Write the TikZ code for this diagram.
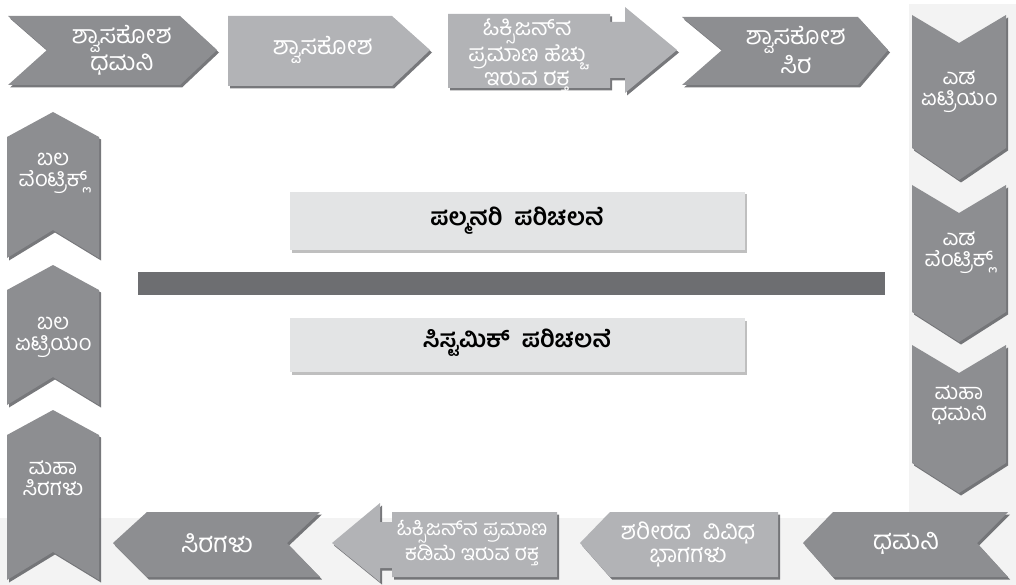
\documentclass[tikz,border=0pt]{standalone}
\usepackage{fontspec}
\newfontfamily\kn[Script=Kannada]{Hind Mysuru}
\definecolor{darkc}{HTML}{8D8E91}
\definecolor{lightc}{HTML}{B2B3B6}
\definecolor{shadc}{HTML}{55565A}
\definecolor{bgc}{HTML}{F3F3F3}
\definecolor{boxc}{HTML}{E3E4E5}
\definecolor{barc}{HTML}{6D6E71}
\begin{document}
\begin{tikzpicture}[x=1pt,y=-1pt,
  shad/.style={preaction={fill=shadc,opacity=0.8,transform canvas={shift={(2pt,-2.5pt)}}}},
  darkshape/.style={fill=darkc,shad},
  lightshape/.style={fill=lightc,shad},
  boxshape/.style={fill=boxc,preaction={fill=black!25,transform canvas={shift={(1.5pt,-2.5pt)}}}},
  lbl/.style={text=white,align=center,font=\kn\fontsize{25}{21}\selectfont,inner sep=0pt},
  side/.style={lbl,font=\kn\fontsize{22}{21}\selectfont},
  clbl/.style={text=black,align=center,font=\kn\bfseries\fontsize{24}{26}\selectfont,inner sep=0pt}]
\useasboundingbox (0,0) rectangle (1016,585);
% background panels
\fill[bgc] (909,4) rectangle (1016,518);
\fill[bgc] (0,518) rectangle (1016,585);
% top row
\draw[darkshape,draw=none] (8,16)--(180,16)--(217,50)--(180,85)--(8,85)--(47,50)--cycle;
\node[lbl] (a1) at (122,50) {ಶ್ವಾಸಕೋಶ\\ಧಮನಿ};
\draw[lightshape,draw=none] (228,16)--(392,16)--(430,50)--(392,86)--(228,86)--cycle;
\node[lbl] (a2) at (323,50) {ಶ್ವಾಸಕೋಶ};
\draw[lightshape,draw=none] (448,14)--(610,14)--(610,22)--(625,22)--(625,7)--(677,50)--(625,93)--(625,78)--(610,78)--(610,88)--(448,88)--cycle;
\node[lbl,font=\kn\fontsize{23}{24}\selectfont] (a3) at (527,55) {ಓಕ್ಸಿಜನ್^^^^200cನ\\ಪ್ರಮಾಣ ಹೆಚ್ಚು\\ಇರುವ ರಕ್ತ};
\draw[darkshape,draw=none] (682,17)--(858,17)--(888,50)--(858,85)--(682,85)--(722,50)--cycle;
\node[lbl] (a4) at (796,50) {ಶ್ವಾಸಕೋಶ\\ಸಿರ};
% right column
\draw[darkshape,draw=none] (912,15)--(959,43)--(1006,15)--(1006,148)--(959,180)--(912,148)--cycle;
\node[side] (a5) at (959,92) {ಎಡ\\ಏಟ್ರಿಯಂ};
\draw[darkshape,draw=none] (912,185)--(959,213)--(1006,185)--(1006,312)--(959,342)--(912,312)--cycle;
\node[side] (a6) at (959,253) {ಎಡ\\ವೆಂಟ್ರಿಕ್ಲ್};
\draw[darkshape,draw=none] (912,345)--(959,373)--(1006,345)--(1006,463)--(959,493)--(912,463)--cycle;
\node[side] (a7) at (959,405) {ಮಹಾ\\ಧಮನಿ};
% bottom row
\draw[darkshape,draw=none] (803,543)--(833,512)--(1008,512)--(977,543)--(1008,577)--(833,577)--cycle;
\node[lbl,font=\kn\fontsize{26}{21}\selectfont] (a8) at (906,543) {ಧಮನಿ};
\draw[lightshape,draw=none] (580,543)--(610,512)--(778,512)--(778,577)--(610,577)--cycle;
\node[lbl,font=\kn\fontsize{24}{23}\selectfont] (a9) at (688,544) {ಶರೀರದ\ \ ವಿವಿಧ\\ಭಾಗಗಳು};
\draw[lightshape,draw=none] (332,543)--(380,503)--(380,522)--(392,522)--(392,512)--(557,512)--(557,577)--(392,577)--(392,568)--(380,568)--(380,582)--cycle;
\node[lbl,font=\kn\fontsize{21}{20}\selectfont] (a10) at (472,543) {ಓಕ್ಸಿಜನ್^^^^200cನ ಪ್ರಮಾಣ\\ಕಡಿಮೆ ಇರುವ ರಕ್ತ};
\draw[darkshape,draw=none] (113,543)--(147,512)--(320,512)--(287,543)--(320,577)--(147,577)--cycle;
\node[lbl,font=\kn\fontsize{26}{21}\selectfont] (a11) at (217,543) {ಸಿರಗಳು};
% left column
\draw[darkshape,draw=none] (53,410)--(99,435)--(99,580)--(53,552)--(7,580)--(7,435)--cycle;
\node[side] (a12) at (53,478) {ಮಹಾ\\ಸಿರಗಳು};
\draw[darkshape,draw=none] (53,265)--(99,290)--(99,405)--(53,377)--(7,405)--(7,290)--cycle;
\node[side] (a13) at (53,337) {ಬಲ\\ಏಟ್ರಿಯಂ};
\draw[darkshape,draw=none] (53,112)--(99,137)--(99,258)--(53,230)--(7,258)--(7,137)--cycle;
\node[side] (a14) at (53,173) {ಬಲ\\ವೆಂಟ್ರಿಕ್ಲ್};
% centre
\draw[boxshape,draw=none] (290,192) rectangle (745,250);
\node[clbl] (p) at (517,221) {ಪಲ್ಮನರಿ\ \ ಪರಿಚಲನೆ};
\fill[barc] (138,272) rectangle (885,295);
\draw[boxshape,draw=none] (290,318) rectangle (745,372);
\node[clbl] (s) at (517,343) {ಸಿಸ್ಟಮಿಕ್\ \ ಪರಿಚಲನೆ};
\end{tikzpicture}
\end{document}
